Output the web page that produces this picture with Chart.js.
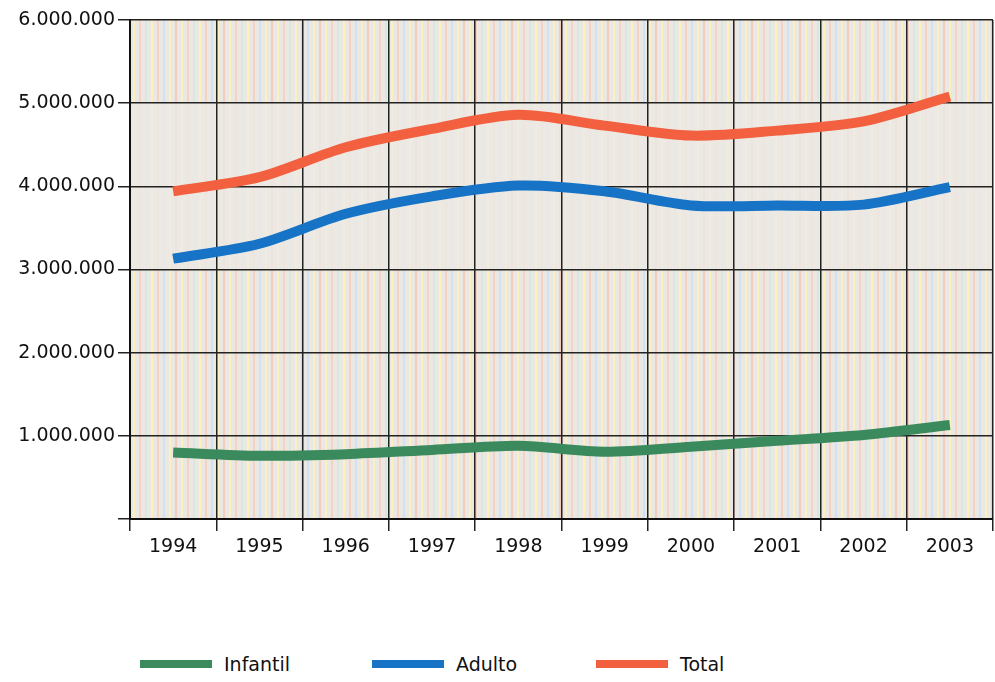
<!DOCTYPE html>
<html>
<head>
<meta charset="utf-8">
<script src="https://cdn.jsdelivr.net/npm/chart.js@4"></script>
<style>
    body { margin: 0; background: #fff; width: 995px; height: 682px; position: relative; overflow: hidden; }
    #wrap { position: absolute; left: 0; top: 0; width: 995px; height: 580px; }
    .legend { position: absolute; top: 653px; left: 0; font-family: "DejaVu Sans", sans-serif; font-size: 19px; color: #111; }
    .legend span { position: absolute; white-space: nowrap; display: flex; align-items: center; }
    .legend i { display: inline-block; width: 72px; height: 8px; margin-right: 12px; }
</style>
</head>
<body>
<div id="wrap"><canvas id="chart"></canvas></div>
<div class="legend" id="legend"></div>
<script>
const anos = ['1994', '1995', '1996', '1997', '1998', '1999', '2000', '2001', '2002', '2003']
const infantil = [800000, 760000, 780000, 830000, 880000, 810000, 870000, 940000, 1010000, 1130000]
const adulto = [3130000, 3310000, 3670000, 3880000, 4010000, 3940000, 3770000, 3770000, 3780000, 3990000]
const total = [3940000, 4110000, 4470000, 4690000, 4860000, 4730000, 4610000, 4670000, 4780000, 5080000]
const yTicks = [0, 1000000, 2000000, 3000000, 4000000, 5000000, 6000000]

const cores = { infantil: '#3b8a5e', adulto: '#1673c6', total: '#f2603f' }

// fundo listrado e faixa pontilhada entre 3 e 5 milhoes
const fundo = {
    id: 'fundo',
    beforeDraw(chart) {
        const { ctx, chartArea: a, scales } = chart
        const listras = ['#fbf1bd', '#f4d3c4', '#d6e9da', '#fbf1bd', '#f4d3c4', '#cfe3ef', '#fbf1bd', '#f1cdbd']
        ctx.save()
        ctx.fillStyle = '#eae7e5'
        ctx.fillRect(a.left, a.top, a.right - a.left, a.bottom - a.top)
        let k = 0
        for (let x = a.left + 3; x < a.right; x += 6) {
            ctx.fillStyle = listras[k++ % listras.length]
            ctx.fillRect(x, a.top, 2, a.bottom - a.top)
        }
        const y5 = scales.y.getPixelForValue(5000000)
        const y3 = scales.y.getPixelForValue(3000000)
        ctx.fillStyle = 'rgba(237,233,228,0.82)'
        ctx.fillRect(a.left, y5, a.right - a.left, y3 - y5)
        ctx.restore()
    }
}

const serie = (label, data, cor) => ({
    label, data,
    borderColor: cor,
    backgroundColor: cor,
    borderWidth: 10,
    pointRadius: 0,
    tension: 0.3,
    borderCapStyle: 'butt',
    fill: false
})

const fonte = { family: '"DejaVu Sans", sans-serif', size: 19 }

new Chart(document.getElementById('chart'), {
    type: 'line',
    data: {
        labels: anos,
        datasets: [
            serie('Total', total, cores.total),
            serie('Adulto', adulto, cores.adulto),
            serie('Infantil', infantil, cores.infantil)
        ]
    },
    options: {
        responsive: true,
        maintainAspectRatio: false,
        animation: false,
        layout: { padding: { top: 20, right: 2, left: 0, bottom: 0 } },
        plugins: { legend: { display: false }, tooltip: { enabled: false } },
        scales: {
            x: {
                offset: true,
                grid: { offset: true, color: '#222', lineWidth: 1.5, tickLength: 12 },
                border: { color: '#111', width: 2 },
                ticks: { color: '#111', font: fonte, padding: 5, maxRotation: 0 },
                afterFit: s => { s.height = 61 }
            },
            y: {
                min: 0,
                max: 6000000,
                afterBuildTicks: s => { s.ticks = yTicks.map(v => ({ value: v })) },
                grid: { color: '#222', lineWidth: 1.5, tickLength: 12 },
                border: { color: '#111', width: 2 },
                ticks: {
                    color: '#111', font: fonte, padding: 3,
                    callback: v => v === 0 ? '' : v.toLocaleString('de-DE')
                },
                afterFit: s => { s.width = 130 }
            }
        }
    },
    plugins: [fundo]
})

const legenda = document.getElementById('legend')
const itens = [['Infantil', cores.infantil, 140], ['Adulto', cores.adulto, 372], ['Total', cores.total, 596]]
itens.forEach(([nome, cor, x]) => {
    const el = document.createElement('span')
    el.style.left = x + 'px'
    el.innerHTML = `<i style="background:${cor}"></i>${nome}`
    legenda.appendChild(el)
})
</script>
</body>
</html>
